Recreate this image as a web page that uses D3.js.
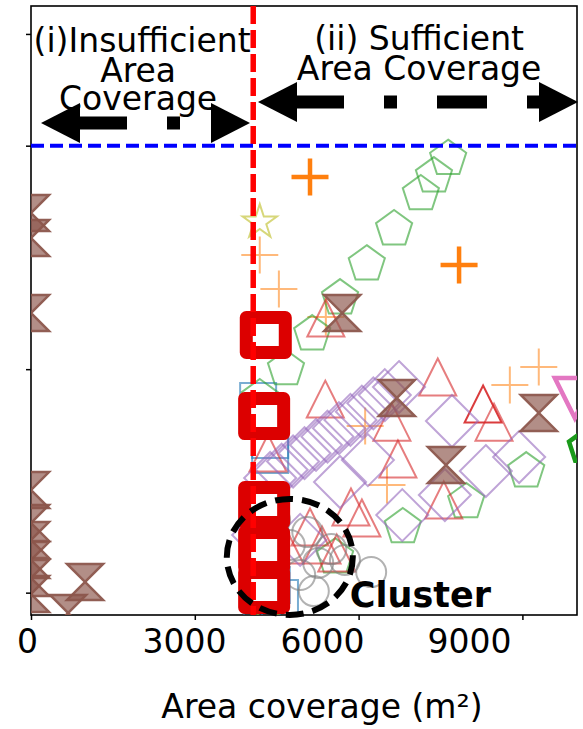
<!DOCTYPE html>
<html>
<head>
<meta charset="utf-8">
<script src="https://cdn.jsdelivr.net/npm/d3@7"></script>
<style>
  html, body { margin: 0; padding: 0; background: #fff; }
  svg { display: block; font-family: "DejaVu Sans", sans-serif; }
</style>
</head>
<body>
<svg id="chart" width="583" height="729"></svg>
<script>
// ---- data ----------------------------------------------------------------
// x: area coverage (m²), y: second metric of each run
const xTicks = [0, 3000, 6000, 9000];
const yTicks = [0, 100, 200, 250];
const coverageThreshold = 4070;   // boundary between the two regimes
const yThreshold = 200;

const blueSquares = [[4160,85.7],[4380,68.3],[4380,61.6],[4230,39.2],[4160,28.0],
  [4380,21.3],[4160,10.1],[4410,3.4],[4230,-2.4],[4560,-2.4]];
const orangeFaint = [[4190,151.1],[4540,135.9],[5400,123.3],[6120,74.6],[6520,48.2],
  [8770,92.9],[9300,101.0]];
const orangeBold = [[5110,186.0],[7840,146.6]];
const greenPentagons = [[7640,194.2],[7380,186.4],[7140,178.4],[6650,162.7],[6150,147.0],
  [5660,131.8],[5150,115.7],[4670,100.1],[4190,87.1],[9070,54.4],[7970,40.6],
  [6810,29.4],[5570,15.9],[4340,1.2]];
const redTriangles = [[5390,86.6],[7450,96.5],[8480,76.3],[6610,76.3],[6720,59.8],
  [7560,41.5],[5860,38.3],[6060,33.4],[4340,62.5],[5600,17.7],[5330,21.3],
  [5400,122.9],[5110,29.4],[4650,21.3]];
const redTrianglesDark = [[8280,84.4]];
const purpleDiamonds = [[6740,92.0],[7710,76.8],[8940,60.7],[8330,54.4],[7580,43.7],
  [6800,34.7],[6170,59.3],[5660,49.5],
  [4380,51.3],[4590,55.0],[4800,58.7],[5010,62.4],[5220,66.1],[5430,69.8],
  [5640,73.6],[5850,77.3],[6060,81.0],[6270,84.7],[6480,88.4],
  [4160,25.8],[4930,23.6]];
const grayCircles = [[6230,9.2],[5180,0.7],[5500,19.5],[5060,27.1],[4740,21.3],
  [5260,13.3],[5750,14.6],[4470,32.5],[4930,7.9],[4250,16.8]];
const oliveStars = [[4190,165.8],[4290,-1.1],[4340,-3.3]];
const brownHourglass = [[5700,125.1],[6700,87.1],[7600,57.1],[9300,80.4],[990,4.8],[680,-9.1],
  [0,169.9],[0,158.7],[0,125.1],[0,45.9],[0,31.2],[0,23.6],[0,14.6],[0,6.6],[0,-0.6]];
const pinkTriangles = [[9960,87.1]];
const greenBold = [[10150,65.2]];
const redBoldSquares = [[4300,115.3],[4270,79.0],[4270,39.2],[4270,19.1],[4270,1.2]];
const clusterCenter = [4740, 16.0];

// ---- layout --------------------------------------------------------------
const svg = d3.select("#chart");
const pL = 31, pR = 577, pT = 6, pB = 615;

const x = d3.scaleLinear().domain([0, 10000]).range([pL, pR]);
const y = d3.scaleLinear().domain([-10, 262.5]).range([pB, pT]);
// tick labels are set slightly left of their tick marks
const xLabel = d3.scaleLinear().domain(xTicks).range([27, 184, 322, 469]);

svg.append("defs").append("clipPath").attr("id", "plotClip")
  .append("rect").attr("x", pL).attr("y", pT)
  .attr("width", pR - pL).attr("height", pB - pT);

// frame
svg.append("rect").attr("x", pL).attr("y", pT)
  .attr("width", pR - pL).attr("height", pB - pT)
  .attr("fill", "none").attr("stroke", "#000").attr("stroke-width", 1.6);

// axes
const gx = svg.append("g").attr("transform", `translate(0,${pB})`)
  .call(d3.axisBottom(x).tickValues(xTicks).tickSize(5).tickFormat(""));
gx.select(".domain").remove();
gx.selectAll(".tick line").attr("stroke-width", 1.5);

const gxl = svg.append("g").attr("transform", `translate(0,${pB})`)
  .call(d3.axisBottom(xLabel).tickValues(xTicks).tickSize(0).tickPadding(14.6)
    .tickFormat(d3.format("d")));
gxl.select(".domain").remove();
gxl.selectAll("text").attr("font-size", 33).attr("fill", "#000")
  .attr("font-family", "DejaVu Sans, sans-serif");

const gy = svg.append("g").attr("transform", `translate(${pL},0)`)
  .call(d3.axisLeft(y).tickValues(yTicks).tickSize(5).tickFormat(""));
gy.select(".domain").remove();
gy.selectAll(".tick line").attr("stroke-width", 1.5);

svg.append("text").attr("x", 322).attr("y", 718).attr("text-anchor", "middle")
  .attr("font-size", 33).text("Area coverage (m²)");

// ---- marker shapes -------------------------------------------------------
const poly = pts => "M" + pts.map(p => p[0].toFixed(2) + "," + p[1].toFixed(2)).join("L") + "Z";
const shapes = {
  square: r => `M${-r},${-r}H${r}V${r}H${-r}Z`,
  rect: (w, h) => `M${-w},${-h}H${w}V${h}H${-w}Z`,
  plus: r => `M${-r},0H${r}M0,${-r}V${r}`,
  triUp: r => `M0,${-r}L${r},${r}L${-r},${r}Z`,
  triDown: r => `M0,${r}L${r},${-r}L${-r},${-r}Z`,
  diamond: r => `M0,${-r}L${r},0L0,${r}L${-r},0Z`,
  pentagon: r => poly(d3.range(5).map(i => {
    const a = -Math.PI / 2 + i * 2 * Math.PI / 5;
    return [r * Math.cos(a), r * Math.sin(a)];
  })),
  star: r => poly(d3.range(10).map(i => {
    const a = -Math.PI / 2 + i * Math.PI / 5, rr = i % 2 ? r * 0.382 : r;
    return [rr * Math.cos(a), rr * Math.sin(a)];
  })),
  circle: r => `M${-r},0A${r},${r} 0 1,0 ${r},0A${r},${r} 0 1,0 ${-r},0Z`,
  hourglass: r => `M${-r},${-r}L${r},${-r}L${-r},${r}L${r},${r}Z`
};

const plot = svg.append("g").attr("clip-path", "url(#plotClip)");

function markers(data, d, style) {
  const sel = plot.append("g").selectAll("path").data(data).enter().append("path")
    .attr("transform", p => `translate(${x(p[0])},${y(p[1])})`)
    .attr("d", d)
    .attr("fill", style.fill || "none")
    .attr("stroke", style.stroke || "none")
    .attr("stroke-width", style.width || 2)
    .attr("stroke-linejoin", style.join || "miter");
  if (style.opacity !== undefined) sel.attr("opacity", style.opacity);
  if (style.fillOpacity !== undefined) sel.attr("fill-opacity", style.fillOpacity);
  return sel;
}

markers(blueSquares, shapes.square(18), { stroke: "#1f77b4", opacity: 0.6 });
markers(orangeFaint, shapes.plus(18.5), { stroke: "#ff7f0e", opacity: 0.55 });
markers(greenPentagons, shapes.pentagon(19), { stroke: "#2ca02c", opacity: 0.6 });
markers(redTriangles, shapes.triUp(18.5), { stroke: "#d62728", opacity: 0.6 });
markers(redTrianglesDark, shapes.triUp(18.5), { stroke: "#d62728", opacity: 0.9 });
markers(purpleDiamonds, shapes.diamond(26), { stroke: "#9467bd", opacity: 0.6 });
markers(grayCircles, shapes.circle(15), { stroke: "#7f7f7f", opacity: 0.6 });
markers(oliveStars, shapes.star(18), { stroke: "#bcbd22", opacity: 0.6 });
markers(brownHourglass, shapes.hourglass(18),
  { fill: "#8c564b", fillOpacity: 0.7, stroke: "#8c564b", width: 2.5, opacity: 0.95 });
markers(orangeBold, shapes.plus(18.5), { stroke: "#ff7f0e", width: 4.5 });
markers(pinkTriangles, shapes.triDown(20), { stroke: "#e377c2", width: 4.5 });
markers(greenBold, shapes.pentagon(17), { stroke: "#1a9a1a", width: 4.5 });
markers(redBoldSquares, shapes.rect(19.5, 17.5),
  { fill: "#fff", stroke: "#dc0000", width: 13, join: "round" });

// ---- threshold lines -----------------------------------------------------
svg.append("line")
  .attr("x1", x(coverageThreshold)).attr("x2", x(coverageThreshold))
  .attr("y1", pT).attr("y2", pB)
  .attr("stroke", "#ff0000").attr("stroke-width", 5.5).attr("stroke-dasharray", "18 6");
svg.append("line")
  .attr("x1", pL).attr("x2", pR)
  .attr("y1", y(yThreshold)).attr("y2", y(yThreshold))
  .attr("stroke", "#0000ff").attr("stroke-width", 4).attr("stroke-dasharray", "13 6");

// ---- cluster annotation --------------------------------------------------
svg.append("ellipse")
  .attr("cx", x(clusterCenter[0])).attr("cy", y(clusterCenter[1]))
  .attr("rx", 63).attr("ry", 58)
  .attr("fill", "none").attr("stroke", "#000").attr("stroke-width", 6)
  .attr("stroke-dasharray", "18 9");
svg.append("text").attr("x", x(5840)).attr("y", 607)
  .attr("font-size", 35).attr("font-weight", "bold").text("Cluster");

// ---- regime labels and arrows --------------------------------------------
const midI = (x(0) + x(coverageThreshold)) / 2;
const midII = (x(coverageThreshold) + x(10000)) / 2 + 4;
const regimeText = [
  { x: midI, y: 52, t: "(i)Insufficient" },
  { x: midI - 4, y: 82, t: "Area" },
  { x: midI - 4, y: 110, t: "Coverage" },
  { x: midII, y: 50, t: "(ii) Sufficient" },
  { x: midII, y: 80, t: "Area Coverage" }
];
svg.append("g").selectAll("text").data(regimeText).enter().append("text")
  .attr("x", d => d.x).attr("y", d => d.y).attr("text-anchor", "middle")
  .attr("font-size", 33).text(d => d.t);

function doubleArrow(x1, x2, yy) {
  const head = 39, half = 20;
  const g = svg.append("g");
  g.append("line").attr("x1", x1 + 36).attr("x2", x2 - 36).attr("y1", yy).attr("y2", yy)
    .attr("stroke", "#000").attr("stroke-width", 13).attr("stroke-dasharray", "50 40 13 40");
  g.append("path").attr("d", poly([[x1, yy], [x1 + head, yy - half], [x1 + head, yy + half]]));
  g.append("path").attr("d", poly([[x2, yy], [x2 - head, yy - half], [x2 - head, yy + half]]));
}
doubleArrow(41, 250, 123);
doubleArrow(258, 578, 102);
</script>
</body>
</html>
